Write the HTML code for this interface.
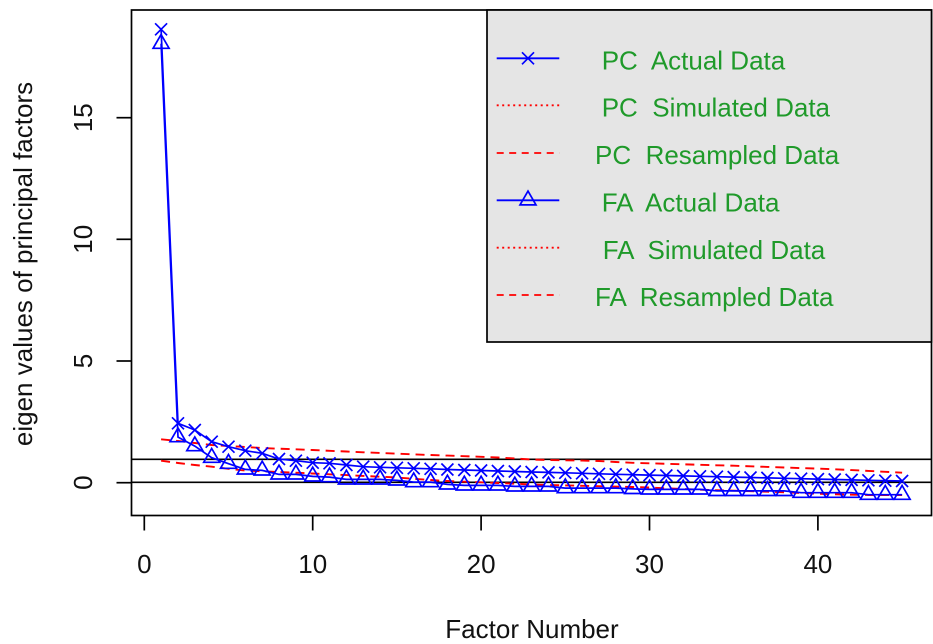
<!DOCTYPE html>
<html>
<head>
<meta charset="utf-8">
<style>
html,body{margin:0;padding:0;background:#fff;}
svg{display:block;}
text{font-family:"Liberation Sans",Arial,sans-serif;}
</style>
</head>
<body>
<svg width="933" height="644" viewBox="0 0 933 644" xmlns="http://www.w3.org/2000/svg">
<defs>
<clipPath id="pc"><rect x="131.5" y="10" width="800" height="505.5"/></clipPath>
<path id="xm" d="M-6,-6L6,6M-6,6L6,-6" stroke="#0000ff" stroke-width="1.7" fill="none"/>
<path id="tr" d="M0,-9.2L8,4.6L-8,4.6Z" stroke="#0000ff" stroke-width="1.7" fill="none"/>
</defs>
<rect width="933" height="644" fill="#fff"/>

<g clip-path="url(#pc)">
<line x1="131.5" y1="459.3" x2="931.5" y2="459.3" stroke="#000" stroke-width="1.6"/>
<line x1="131.5" y1="482.3" x2="931.5" y2="482.3" stroke="#000" stroke-width="1.6"/>

<polyline fill="none" stroke="#ff0000" stroke-width="1.9" stroke-dasharray="9 6" points="161.1,439.3 178.0,441 194.8,443 211.7,445 228.5,446 245.3,447 262.2,448 279.0,448.7 295.9,449.3 312.7,450 329.5,450.8 346.4,451.5 363.2,452.3 380.1,453 396.9,453.7 413.7,454.4 430.6,455 447.4,455.6 464.3,456.2 481.1,456.8 497.9,457.5 514.8,458.5 531.6,459.5 548.5,460 565.3,460.3 582.1,460.6 599.0,461 615.8,462 632.7,462.8 649.5,463.3 666.3,463.8 683.2,464.3 700.0,464.8 716.9,465.3 733.7,465.7 750.5,466.3 767.4,466.9 784.2,467.5 801.1,468.1 817.9,468.6 834.7,469.3 851.6,470.1 868.4,470.9 885.3,471.8 902.1,472.7"/>
<polyline fill="none" stroke="#ff0000" stroke-width="1.9" stroke-dasharray="9 6" points="161.1,460.7 178.0,463 194.8,465 211.7,466.7 228.5,468.8 245.3,470.5 262.2,471.3 279.0,472 295.9,472.7 312.7,473.5 329.5,474.3 346.4,475.1 363.2,475.9 380.1,476.7 396.9,477.5 413.7,478.8 430.6,480 447.4,481 464.3,481.7 481.1,482.3 497.9,483 514.8,483.7 531.6,484.5 548.5,485 565.3,485.4 582.1,485.8 599.0,486.2 615.8,486.6 632.7,487 649.5,487.5 666.3,488.3 683.2,489 700.0,489.7 716.9,490.2 733.7,490.7 750.5,491.2 767.4,491.7 784.2,492.3 801.1,493 817.9,493.7 834.7,494.3 851.6,494.7 868.4,495 885.3,495 902.1,495"/>

<polyline fill="none" stroke="#0000ff" stroke-width="1.7" points="161.1,29.3 178.0,423.3 194.8,430 211.7,441.7 228.5,446.7 245.3,450.7 262.2,453.3 279.0,459 295.9,460.7 312.7,462.7 329.5,463.3 346.4,465 363.2,466.7 380.1,467.3 396.9,467.8 413.7,468.3 430.6,468.8 447.4,469.5 464.3,470 481.1,470.5 497.9,471 514.8,471.5 531.6,472 548.5,472.4 565.3,472.8 582.1,473.3 599.0,473.8 615.8,474.3 632.7,474.7 649.5,475.1 666.3,475.5 683.2,475.9 700.0,476.3 716.9,476.7 733.7,477.1 750.5,477.5 767.4,477.9 784.2,478.3 801.1,478.7 817.9,479.1 834.7,479.5 851.6,479.9 868.4,480.3 885.3,480.7 902.1,481"/>
<polyline fill="none" stroke="#0000ff" stroke-width="1.7" points="161.1,43.7 178.0,437.1 194.8,446.1 211.7,457.7 228.5,463.7 245.3,469.4 262.2,470.4 279.0,474.4 295.9,474.4 312.7,476.4 329.5,477.1 346.4,479.4 363.2,479.4 380.1,479.4 396.9,480.4 413.7,482.1 430.6,482.1 447.4,484.4 464.3,485.4 481.1,485.4 497.9,485.4 514.8,486.4 531.6,486.4 548.5,486.4 565.3,488.1 582.1,488.1 599.0,488.1 615.8,488.1 632.7,488.9 649.5,489.4 666.3,489.4 683.2,489.4 700.0,489.4 716.9,490.9 733.7,490.9 750.5,490.9 767.4,490.9 784.2,490.9 801.1,492.7 817.9,492.7 834.7,492.7 851.6,492.7 868.4,494.7 885.3,494.7 902.1,494.7"/>

<use href="#xm" x="161.1" y="29.3"/><use href="#xm" x="178.0" y="423.3"/><use href="#xm" x="194.8" y="430"/><use href="#xm" x="211.7" y="441.7"/><use href="#xm" x="228.5" y="446.7"/><use href="#xm" x="245.3" y="450.7"/><use href="#xm" x="262.2" y="453.3"/><use href="#xm" x="279.0" y="459"/><use href="#xm" x="295.9" y="460.7"/><use href="#xm" x="312.7" y="462.7"/><use href="#xm" x="329.5" y="463.3"/><use href="#xm" x="346.4" y="465"/><use href="#xm" x="363.2" y="466.7"/><use href="#xm" x="380.1" y="467.3"/><use href="#xm" x="396.9" y="467.8"/><use href="#xm" x="413.7" y="468.3"/><use href="#xm" x="430.6" y="468.8"/><use href="#xm" x="447.4" y="469.5"/><use href="#xm" x="464.3" y="470"/><use href="#xm" x="481.1" y="470.5"/><use href="#xm" x="497.9" y="471"/><use href="#xm" x="514.8" y="471.5"/><use href="#xm" x="531.6" y="472"/><use href="#xm" x="548.5" y="472.4"/><use href="#xm" x="565.3" y="472.8"/><use href="#xm" x="582.1" y="473.3"/><use href="#xm" x="599.0" y="473.8"/><use href="#xm" x="615.8" y="474.3"/><use href="#xm" x="632.7" y="474.7"/><use href="#xm" x="649.5" y="475.1"/><use href="#xm" x="666.3" y="475.5"/><use href="#xm" x="683.2" y="475.9"/><use href="#xm" x="700.0" y="476.3"/><use href="#xm" x="716.9" y="476.7"/><use href="#xm" x="733.7" y="477.1"/><use href="#xm" x="750.5" y="477.5"/><use href="#xm" x="767.4" y="477.9"/><use href="#xm" x="784.2" y="478.3"/><use href="#xm" x="801.1" y="478.7"/><use href="#xm" x="817.9" y="479.1"/><use href="#xm" x="834.7" y="479.5"/><use href="#xm" x="851.6" y="479.9"/><use href="#xm" x="868.4" y="480.3"/><use href="#xm" x="885.3" y="480.7"/><use href="#xm" x="902.1" y="481"/>

<use href="#tr" x="161.1" y="43.7"/><use href="#tr" x="178.0" y="437.1"/><use href="#tr" x="194.8" y="446.1"/><use href="#tr" x="211.7" y="457.7"/><use href="#tr" x="228.5" y="463.7"/><use href="#tr" x="245.3" y="469.4"/><use href="#tr" x="262.2" y="470.4"/><use href="#tr" x="279.0" y="474.4"/><use href="#tr" x="295.9" y="474.4"/><use href="#tr" x="312.7" y="476.4"/><use href="#tr" x="329.5" y="477.1"/><use href="#tr" x="346.4" y="479.4"/><use href="#tr" x="363.2" y="479.4"/><use href="#tr" x="380.1" y="479.4"/><use href="#tr" x="396.9" y="480.4"/><use href="#tr" x="413.7" y="482.1"/><use href="#tr" x="430.6" y="482.1"/><use href="#tr" x="447.4" y="484.4"/><use href="#tr" x="464.3" y="485.4"/><use href="#tr" x="481.1" y="485.4"/><use href="#tr" x="497.9" y="485.4"/><use href="#tr" x="514.8" y="486.4"/><use href="#tr" x="531.6" y="486.4"/><use href="#tr" x="548.5" y="486.4"/><use href="#tr" x="565.3" y="488.1"/><use href="#tr" x="582.1" y="488.1"/><use href="#tr" x="599.0" y="488.1"/><use href="#tr" x="615.8" y="488.1"/><use href="#tr" x="632.7" y="488.9"/><use href="#tr" x="649.5" y="489.4"/><use href="#tr" x="666.3" y="489.4"/><use href="#tr" x="683.2" y="489.4"/><use href="#tr" x="700.0" y="489.4"/><use href="#tr" x="716.9" y="490.9"/><use href="#tr" x="733.7" y="490.9"/><use href="#tr" x="750.5" y="490.9"/><use href="#tr" x="767.4" y="490.9"/><use href="#tr" x="784.2" y="490.9"/><use href="#tr" x="801.1" y="492.7"/><use href="#tr" x="817.9" y="492.7"/><use href="#tr" x="834.7" y="492.7"/><use href="#tr" x="851.6" y="492.7"/><use href="#tr" x="868.4" y="494.7"/><use href="#tr" x="885.3" y="494.7"/><use href="#tr" x="902.1" y="494.7"/>
</g>

<rect x="131.5" y="10" width="800" height="505.5" fill="none" stroke="#000" stroke-width="1.7"/>

<g stroke="#000" stroke-width="1.7">
<line x1="144.3" y1="515.5" x2="144.3" y2="530.5"/>
<line x1="312.7" y1="515.5" x2="312.7" y2="530.5"/>
<line x1="481.1" y1="515.5" x2="481.1" y2="530.5"/>
<line x1="649.5" y1="515.5" x2="649.5" y2="530.5"/>
<line x1="817.9" y1="515.5" x2="817.9" y2="530.5"/>
<line x1="116.5" y1="482.7" x2="131.5" y2="482.7"/>
<line x1="116.5" y1="361" x2="131.5" y2="361"/>
<line x1="116.5" y1="239.3" x2="131.5" y2="239.3"/>
<line x1="116.5" y1="117.7" x2="131.5" y2="117.7"/>
</g>
<g font-size="26" fill="#111" text-anchor="middle">
<text x="144.3" y="573">0</text>
<text x="312.7" y="573">10</text>
<text x="481.1" y="573">20</text>
<text x="649.5" y="573">30</text>
<text x="817.9" y="573">40</text>
<text transform="translate(92,482.7) rotate(-90)">0</text>
<text transform="translate(92,361) rotate(-90)">5</text>
<text transform="translate(92,239.3) rotate(-90)">10</text>
<text transform="translate(92,117.7) rotate(-90)">15</text>
<text x="532" y="638">Factor Number</text>
<text transform="translate(32,264) rotate(-90)">eigen values of principal factors</text>
</g>

<rect x="487" y="10" width="444.5" height="332" fill="#e5e5e5" stroke="#000" stroke-width="1.7"/>
<g stroke-width="1.8" fill="none">
<line x1="496.7" y1="58.3" x2="559.3" y2="58.3" stroke="#0000ff"/>
<line x1="496.7" y1="105.3" x2="559.3" y2="105.3" stroke="#ff0000" stroke-dasharray="2 3.5"/>
<line x1="496.7" y1="153" x2="559.3" y2="153" stroke="#ff0000" stroke-dasharray="7 5.5"/>
<line x1="496.7" y1="200.3" x2="559.3" y2="200.3" stroke="#0000ff"/>
<line x1="496.7" y1="247.7" x2="559.3" y2="247.7" stroke="#ff0000" stroke-dasharray="2 3.5"/>
<line x1="496.7" y1="295" x2="559.3" y2="295" stroke="#ff0000" stroke-dasharray="7 5.5"/>
</g>
<use href="#xm" x="528" y="58.3"/>
<use href="#tr" x="528" y="200.3"/>
<g font-size="26" fill="#1f9a2a" style="white-space:pre">
<text x="601.7" y="69.5" xml:space="preserve">PC  Actual Data</text>
<text x="601.7" y="116.5" xml:space="preserve">PC  Simulated Data</text>
<text x="595" y="164" xml:space="preserve">PC  Resampled Data</text>
<text x="601.7" y="211.5" xml:space="preserve">FA  Actual Data</text>
<text x="602.7" y="259" xml:space="preserve">FA  Simulated Data</text>
<text x="595" y="306" xml:space="preserve">FA  Resampled Data</text>
</g>
</svg>
</body>
</html>
